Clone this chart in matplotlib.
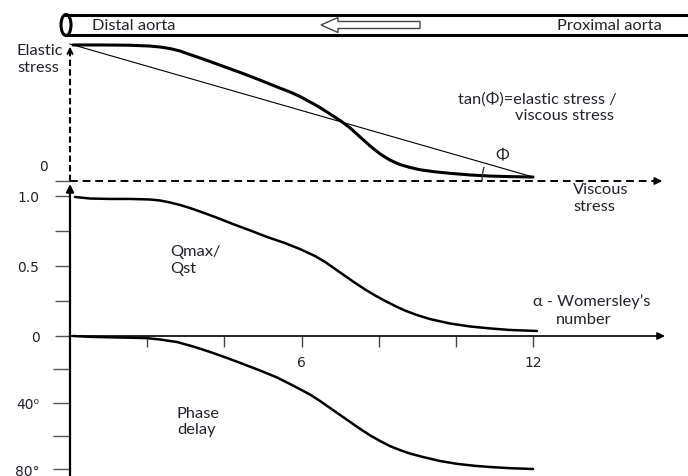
import numpy as np
import matplotlib
matplotlib.use("Agg")
import matplotlib.pyplot as plt
from matplotlib.patches import Ellipse, Polygon, Arc
from matplotlib.transforms import IdentityTransform

# Womersley number (alpha) vs. elastic stress, Qmax/Qst and phase delay
elastic_alpha = [0.08, 0.8, 1.56, 2.07, 2.33, 2.59, 2.85, 3.11, 3.37, 3.63, 4.02, 4.48, 4.92,
                 5.37, 5.70, 5.96, 6.22, 6.48, 6.74, 7.0, 7.26, 7.52, 7.78, 8.04, 8.29, 8.55,
                 8.81, 9.07, 9.46, 9.85, 10.37, 10.89, 11.4, 12.0]
elastic_stress = [0.993, 0.993, 0.991, 0.985, 0.978, 0.967, 0.949, 0.923, 0.898, 0.872, 0.832,
                  0.785, 0.737, 0.686, 0.650, 0.617, 0.577, 0.536, 0.489, 0.442, 0.387, 0.321,
                  0.255, 0.197, 0.153, 0.120, 0.099, 0.082, 0.067, 0.056, 0.044, 0.036, 0.032,
                  0.029]

chord_alpha = [0.0, 12.0]
chord_stress = [1.0, 0.029]

q_alpha = [0.13, 0.52, 1.04, 1.56, 2.07, 2.33, 2.59, 2.85, 3.11, 3.37, 3.76, 4.22, 4.67, 5.11,
           5.57, 5.96, 6.35, 6.61, 6.87, 7.13, 7.39, 7.65, 7.91, 8.17, 8.43, 8.68, 8.99, 9.33,
           9.85, 10.37, 10.89, 11.4, 12.1]
q_ratio = [0.993, 0.982, 0.979, 0.979, 0.975, 0.968, 0.954, 0.936, 0.914, 0.889, 0.850, 0.800,
           0.754, 0.707, 0.664, 0.621, 0.571, 0.529, 0.479, 0.429, 0.379, 0.332, 0.289, 0.250,
           0.214, 0.182, 0.150, 0.121, 0.089, 0.068, 0.054, 0.043, 0.036]

phase_alpha = [0.08, 0.52, 1.04, 1.56, 2.0, 2.33, 2.77, 3.19, 3.63, 4.07, 4.48, 4.93, 5.37,
               5.78, 6.22, 6.48, 6.74, 7.0, 7.26, 7.52, 7.78, 8.04, 8.29, 8.55, 8.81, 9.15,
               9.59, 10.03, 10.5, 10.89, 11.4, 12.0]
phase_deg = [0, 0.5, 0.8, 1.0, 1.3, 2.1, 3.6, 6.3, 9.6, 13.2, 16.8, 20.8, 25.0, 29.8, 35.2,
             39.1, 43.3, 47.5, 51.7, 55.9, 59.8, 63.2, 66.2, 68.6, 70.7, 72.8, 75.2, 76.9,
             78.1, 78.8, 79.5, 80.0]

alpha_ticks = [2, 4, 6, 8, 10, 12]
alpha_labels = ['', '', '6', '', '', '12']
q_ticks = [0, 0.25, 0.5, 0.75, 1.0]
q_labels = ['0', '', '0.5', '', '1.0']
phase_ticks = [20, 40, 60, 80]
phase_labels = ['', '40\u2070', '', '80\u00b0']

W, H = 688, 477
TXT = '#23232b'
FONT = 'Lato'
FS = 11.8
NUM_FS = 10
ALPHA_MAX = 15.42

fig = plt.figure(figsize=(W / 100, H / 100), dpi=100)


def px_axes(x0, y0, x1, y1):
    # pixel box measured from the top-left corner
    ax = fig.add_axes([x0 / W, 1 - y1 / H, (x1 - x0) / W, (y1 - y0) / H])
    ax.set_facecolor('none')
    for s in ax.spines.values():
        s.set_visible(False)
    ax.set_xlim(0, ALPHA_MAX)
    return ax


curve_kw = dict(color='k', clip_on=False, solid_capstyle='round', solid_joinstyle='round')

# ---- top panel: elastic vs viscous stress
ax_top = px_axes(70, 45, 665, 182)
ax_top.set_ylim(0, 1)
ax_top.set_xticks([])
ax_top.set_yticks([0])
ax_top.set_yticklabels([])
ax_top.tick_params(axis='y', length=11, width=1, color='#555555')
ax_top.plot([0, 0], [0, 0.97], ls=(0, (3, 1.6)), color='k', lw=1.5, clip_on=False)
ax_top.annotate('', xy=(0, 1.0), xytext=(0, 0.93),
                arrowprops=dict(arrowstyle='->', lw=1.4, color='k', mutation_scale=9))
ax_top.plot([0, ALPHA_MAX - 0.3], [0, 0], ls=(0, (4, 2.5)), color='k', lw=1.4, clip_on=False)
ax_top.annotate('', xy=(ALPHA_MAX, 0), xytext=(ALPHA_MAX - 0.4, 0),
                arrowprops=dict(arrowstyle='-|>', lw=1.2, color='k', mutation_scale=11))
ax_top.plot(chord_alpha, chord_stress, color='k', lw=0.8, clip_on=False)
ax_top.plot(elastic_alpha, elastic_stress, lw=2.2, **curve_kw)

# angle between the chord and the viscous axis
p0 = ax_top.transData.transform((chord_alpha[0], chord_stress[0]))
p1 = ax_top.transData.transform((chord_alpha[1], chord_stress[1]))
ang = np.degrees(np.arctan2(p0[1] - p1[1], p0[0] - p1[0]))
base = ax_top.transData.transform((chord_alpha[1], 0))
fig.add_artist(Arc((p1[0], base[1]), 102, 102, theta1=ang, theta2=180,
                   transform=IdentityTransform(), color='#333333', lw=1.0))

# ---- middle panel: Qmax / Qst
ax_mid = px_axes(70, 182, 665, 337)
ax_mid.set_ylim(0, 155 / 140)
ax_mid.set_xticks(alpha_ticks)
ax_mid.set_xticklabels(alpha_labels, fontsize=NUM_FS, color=TXT)
ax_mid.tick_params(axis='x', direction='out', length=8, width=1, color='#444444', pad=6)
ax_mid.set_yticks(q_ticks)
ax_mid.set_yticklabels(q_labels, fontsize=NUM_FS, color=TXT)
ax_mid.tick_params(axis='y', length=11, width=1, color='#555555', pad=11)
ax_mid.annotate('', xy=(0, 152 / 140), xytext=(0, 0),
                arrowprops=dict(arrowstyle='-|>', lw=1.6, color='k', mutation_scale=11,
                                shrinkA=0, shrinkB=0))
ax_mid.annotate('', xy=(ALPHA_MAX, 0), xytext=(0, 0),
                arrowprops=dict(arrowstyle='-|>', lw=1.2, color='k', mutation_scale=11,
                                shrinkA=0, shrinkB=0))
ax_mid.plot(q_alpha, q_ratio, lw=1.8, **curve_kw)

# ---- bottom panel: phase delay
ax_bot = px_axes(70, 337, 665, 477)
ax_bot.set_ylim(140 / 1.6625, 0)
ax_bot.spines['left'].set_visible(True)
ax_bot.spines['left'].set_linewidth(1.6)
ax_bot.set_xticks([])
ax_bot.set_yticks(phase_ticks)
ax_bot.set_yticklabels(phase_labels, fontsize=NUM_FS, color=TXT)
ax_bot.tick_params(axis='y', length=12, width=1, color='#555555', pad=10)
ax_bot.plot(phase_alpha, phase_deg, lw=1.8, **curve_kw)

# ---- overlay in pixel units: aorta tube and annotations
ov = fig.add_axes([0, 0, 1, 1])
ov.set_xlim(0, W)
ov.set_ylim(H, 0)
ov.axis('off')
ov.set_facecolor('none')

ov.plot([66, W], [16, 16], color='k', lw=2.2)
ov.plot([66, W], [36, 36], color='k', lw=2.2)
ov.add_patch(Ellipse((66, 26), 10, 21, facecolor='white', edgecolor='k', lw=2.2))
ov.add_patch(Polygon([(321, 26), (338, 18.5), (338, 22.5), (420, 22.5), (420, 29.5),
                      (338, 29.5), (338, 33.5)], closed=True,
                     facecolor='white', edgecolor='#444444', lw=1.0))

tkw = dict(color=TXT, fontsize=FS, family=FONT, va='center')
labels = [
    (92, 26, 'Distal aorta'),
    (458, 99, 'tan(\u03a6)=elastic stress /'),
    (515, 116, 'viscous stress'),
    (17, 51, 'Elastic'),
    (17, 68, 'stress'),
    (573, 190, 'Viscous'),
    (573, 207, 'stress'),
    (170, 252, 'Qmax/'),
    (170, 269, 'Qst'),
    (533, 302, '\u03b1 - Womersley\u2019s'),
    (556, 320, 'number'),
    (177, 414, 'Phase'),
    (177, 430, 'delay'),
]
for x, y, s in labels:
    ov.text(x, y, s, ha='left', **tkw)
ov.text(662, 26, 'Proximal aorta', ha='right', **tkw)
ov.text(502, 156, '\u03a6', ha='center', **tkw)
ov.text(44, 167, '0', va='center', ha='center', color=TXT, fontsize=NUM_FS)

fig.savefig('out.png', dpi=100)
